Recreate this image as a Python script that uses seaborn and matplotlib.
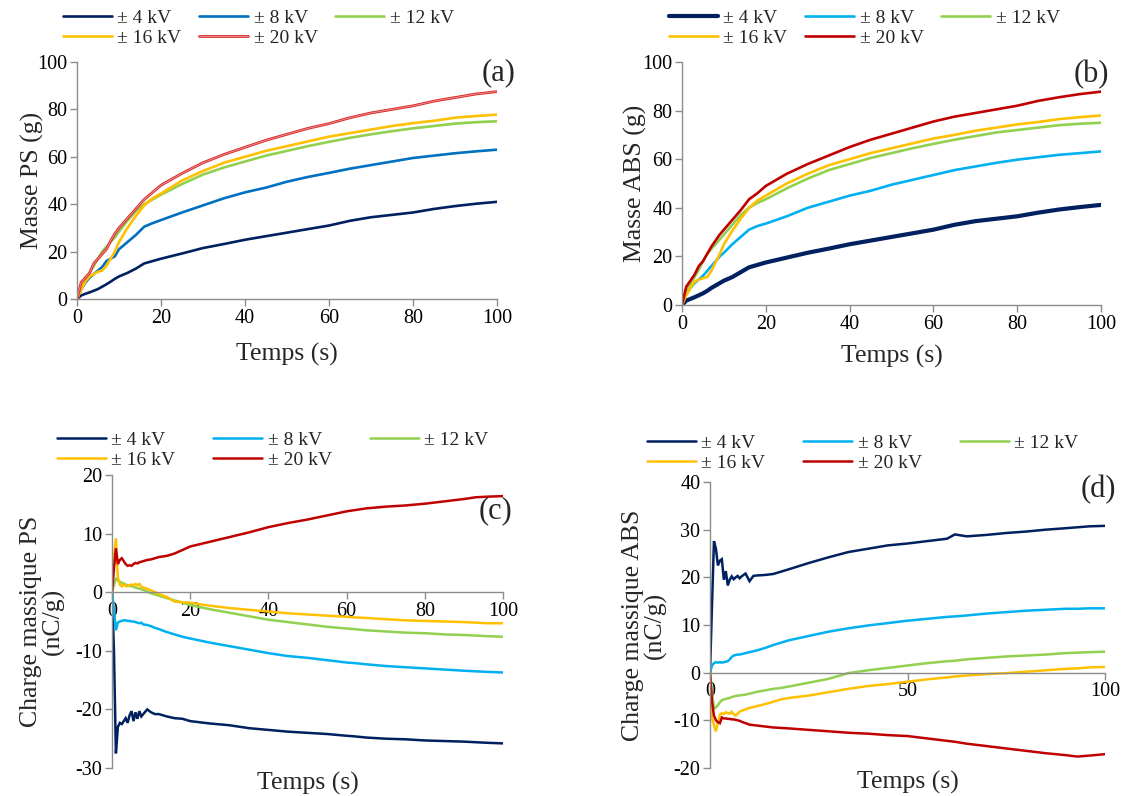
import numpy as np
import pandas as pd
import seaborn as sns
import matplotlib
matplotlib.use("Agg")
import matplotlib.pyplot as plt
import matplotlib.patheffects as pe

sns.set_theme(style="white")
plt.rcParams["font.family"] = ["Liberation Serif", "DejaVu Serif"]
plt.rcParams["axes.unicode_minus"] = False

# ---------------------------------------------------------------- data
tensions = ["± 4 kV", "± 8 kV", "± 12 kV", "± 16 kV", "± 20 kV"]

# collected mass (g) versus time (s)
t_masse = [0, 1, 2, 3, 4, 5, 6, 7, 8, 9, 10, 12, 14, 16, 18, 20, 25, 30, 35, 40,
           45, 50, 55, 60, 65, 70, 75, 80, 85, 90, 95, 100]

masse_ps_4kv = [0, 1.5, 2.2, 2.8, 3.5, 4.2, 5.2, 6.2, 7.3, 8.5, 9.5, 11, 12.8, 15, 16, 17,
                19.2, 21.5, 23.2, 25, 26.5, 28, 29.5, 31, 33, 34.5, 35.5, 36.5, 38, 39.2, 40.2, 41]
masse_ps_8kv = [0, 4, 7, 9, 10.5, 12, 13.5, 16, 17, 18, 21, 24, 27, 30.5, 32, 33.3,
                36.5, 39.5, 42.5, 45, 47, 49.5, 51.5, 53.2, 55, 56.5, 58, 59.5, 60.5, 61.5, 62.3, 63]
masse_ps_12kv = [0, 5, 8, 11, 14, 17, 20, 22, 24, 26, 28.5, 33, 37, 40, 42, 44,
                 48.5, 52.5, 55.5, 58, 60.5, 62.5, 64.5, 66.3, 68, 69.5, 70.8, 72, 73, 74, 74.6, 75]
masse_ps_16kv = [0, 4, 7.5, 9.5, 10.5, 11.5, 12, 14, 17, 20, 24, 30, 35, 39.5, 42.5, 44.5,
                 50, 54, 57.5, 60, 62.5, 64.5, 66.5, 68.5, 70, 71.5, 73, 74.2, 75.2, 76.5, 77.2, 77.8]
masse_ps_20kv = [0, 7, 9, 11, 15, 17, 19, 21, 24.5, 27.5, 30, 34, 38, 42, 45, 48,
                 53, 57.5, 61, 64, 67, 69.5, 72, 74, 76.5, 78.5, 80, 81.5, 83.5, 85, 86.5, 87.5]

masse_abs_4kv = [0, 1.8, 2.5, 3.2, 4, 4.8, 5.8, 7, 8, 9, 10, 11.5, 13.5, 15.5, 16.5, 17.5,
                 19.5, 21.5, 23.2, 25, 26.5, 28, 29.5, 31, 33, 34.5, 35.5, 36.5, 38, 39.3, 40.3, 41.2]
masse_abs_8kv = [0, 4.5, 7, 9, 10.5, 12, 14, 16, 18, 20, 21.5, 25, 28, 31, 32.5, 33.5,
                 36.5, 40, 42.5, 45, 47, 49.5, 51.5, 53.5, 55.5, 57, 58.5, 59.8, 60.8, 61.8, 62.5, 63.2]
masse_abs_12kv = [0, 6, 8.5, 11.5, 14.5, 18, 21, 23, 25, 27, 29, 33, 37, 40, 42, 43.5,
                  48, 52, 55.5, 58, 60.5, 62.5, 64.5, 66.3, 68, 69.5, 71, 72, 73, 74, 74.6, 75]
masse_abs_16kv = [0, 4, 7, 9.5, 10.5, 11, 11.5, 14, 17.5, 21, 25, 30.5, 35.5, 40, 43, 45,
                  50, 54, 57.5, 60, 62.5, 64.5, 66.5, 68.5, 70, 71.7, 73, 74.3, 75.3, 76.5, 77.3, 78]
masse_abs_20kv = [0, 7.5, 10, 12.5, 16, 18, 21, 24, 26.5, 29, 31, 35, 39, 43.5, 46, 49,
                  54, 58, 61.5, 65, 68, 70.5, 73, 75.5, 77.5, 79, 80.5, 82, 84, 85.5, 86.8, 87.8]

# charge-to-mass ratio (nC/g) versus time (s)
t_charge = [0, 0.5, 1, 1.5, 2, 2.5, 3, 3.5, 4, 4.5, 5, 5.5, 6, 6.5, 7, 7.5, 8, 9, 10, 11,
            12, 14, 16, 18, 20, 25, 30, 35, 40, 45, 50, 55, 60, 62, 65, 70, 75, 80, 85, 90,
            93, 96, 100]

charge_ps_4kv = [0, -10, -27.5, -23, -22.3, -22.5, -22, -21.5, -22.3, -21, -20.3, -22, -20.5,
                 -21.6, -20.3, -21.2, -20.8, -20, -20.5, -20.8, -20.8, -21.2, -21.5, -21.6, -22,
                 -22.4, -22.7, -23.2, -23.5, -23.8, -24, -24.2, -24.5, -24.6, -24.8, -25, -25.1,
                 -25.3, -25.4, -25.5, -25.6, -25.7, -25.8]
charge_ps_8kv = [0, -3, -6.5, -5.2, -5, -4.9, -4.8, -4.8, -4.9, -4.9, -5, -5, -5.1, -5.2, -5.3,
                 -5.2, -5.5, -5.6, -5.8, -6.1, -6.3, -6.8, -7.2, -7.6, -7.9, -8.6, -9.2, -9.8,
                 -10.4, -10.9, -11.2, -11.6, -12, -12.1, -12.3, -12.6, -12.8, -13, -13.2, -13.4,
                 -13.5, -13.6, -13.7]
charge_ps_12kv = [0, 1.2, 2.3, 2, 1.8, 1.6, 1.5, 1.3, 1.2, 1.1, 1, 0.9, 0.8, 0.7, 0.6, 0.5, 0.4,
                  0.1, -0.2, -0.4, -0.6, -1, -1.4, -1.8, -2.2, -2.9, -3.5, -4.1, -4.7, -5.1,
                  -5.5, -5.9, -6.2, -6.3, -6.5, -6.7, -6.9, -7.0, -7.2, -7.3, -7.4, -7.5, -7.6]
charge_ps_16kv = [0, 6, 9.2, 2.5, 1.3, 1, 1.3, 1.1, 1, 1.2, 1.3, 1.2, 1.4, 1.2, 1.4, 0.9, 0.8,
                  0.6, 0.3, 0, -0.3, -0.8, -1.6, -1.7, -1.8, -2.3, -2.7, -3.0, -3.3, -3.6, -3.8,
                  -4.0, -4.2, -4.3, -4.4, -4.6, -4.8, -4.9, -5.0, -5.1, -5.2, -5.3, -5.3]
charge_ps_20kv = [0, 4, 7.5, 4.8, 5.5, 5.8, 5.3, 4.8, 4.5, 4.6, 4.5, 4.8, 5, 4.9, 5.1, 5.2, 5.3,
                  5.5, 5.6, 5.8, 6, 6.2, 6.6, 7.2, 7.8, 8.6, 9.4, 10.2, 11.1, 11.8, 12.4, 13.1,
                  13.8, 14, 14.3, 14.6, 14.8, 15.1, 15.5, 15.9, 16.2, 16.3, 16.4]

charge_abs_4kv = [0, 14, 27.6, 26, 22.5, 23.5, 23.8, 19.5, 21.3, 18.3, 19.5, 20.2, 19.6, 20,
                  20.3, 19.8, 20.2, 20.8, 19.2, 20.3, 20.4, 20.5, 20.7, 21.2, 21.7, 23, 24.2,
                  25.3, 26, 26.7, 27.1, 27.6, 28.1, 29, 28.6, 28.9, 29.3, 29.6, 30, 30.3, 30.5,
                  30.7, 30.8]
charge_abs_8kv = [0, 1.5, 2, 2.2, 2.1, 2.2, 2.1, 2.2, 2.3, 2.4, 2.8, 3.3, 3.6, 3.7, 3.8, 3.8,
                  3.9, 4.1, 4.3, 4.5, 4.7, 5.2, 5.8, 6.3, 6.8, 7.7, 8.6, 9.3, 9.9, 10.4, 10.9,
                  11.3, 11.7, 11.8, 12, 12.4, 12.7, 13, 13.2, 13.4, 13.4, 13.5, 13.5]
charge_abs_12kv = [0, -4, -7.6, -7.3, -6.8, -6.2, -5.8, -5.6, -5.5, -5.4, -5.3, -5.1, -5,
                   -4.9, -4.8, -4.8, -4.7, -4.6, -4.4, -4.2, -4.0, -3.7, -3.4, -3.2, -2.9, -2.1,
                   -1.3, -0.1, 0.5, 1, 1.5, 2, 2.4, 2.5, 2.8, 3.1, 3.4, 3.6, 3.8, 4.1, 4.2, 4.3, 4.4]
charge_abs_16kv = [0, -9.5, -11, -12.3, -10.5, -8.8, -8.5, -8.7, -8.3, -8.5, -8.6, -8.2, -8.7,
                   -9, -8.6, -8.2, -8, -7.7, -7.4, -7.2, -7, -6.6, -6.1, -5.6, -5.3, -4.8, -4.1,
                   -3.4, -2.8, -2.4, -1.9, -1.4, -1.0, -0.8, -0.6, -0.3, -0.1, 0.2, 0.5, 0.8,
                   0.9, 1.1, 1.2]
charge_abs_20kv = [0, -6, -9, -10, -10.4, -10.6, -9.4, -9.6, -9.6, -9.7, -9.7, -9.8, -9.8,
                   -9.9, -10, -10.1, -10.3, -10.6, -10.9, -11, -11.1, -11.3, -11.5, -11.6,
                   -11.7, -12, -12.3, -12.6, -12.8, -13.1, -13.3, -13.8, -14.3, -14.5, -14.9,
                   -15.4, -15.9, -16.4, -16.9, -17.3, -17.6, -17.4, -17.1]

# ---------------------------------------------------------------- style
NAVY, BLUE, SKY = "#002060", "#0070C0", "#00B0F0"
GREEN, AMBER, RED, DARKRED = "#92D050", "#FFC000", "#D42A2A", "#C00000"
AXIS_GREY = "#8C8C8C"

TICK_FS, LABEL_FS, LEGEND_FS, LETTER_FS = 14.5, 18.5, 14, 22

W, H = 1130, 796
fig = plt.figure(figsize=(W / 100, H / 100), dpi=100)


def axes_px(left, top, right, bottom):
    return fig.add_axes([left / W, 1 - bottom / H, (right - left) / W, (bottom - top) / H])


def draw_series(ax, t, series, colors, widths):
    df = pd.DataFrame({
        "Temps": np.tile(t, len(series)),
        "Valeur": np.concatenate([np.asarray(s, float) for s in series]),
        "Tension": np.repeat(tensions, len(t)),
    })
    sns.lineplot(data=df, x="Temps", y="Valeur", hue="Tension", hue_order=tensions,
                 palette=dict(zip(tensions, colors)), estimator=None, sort=False,
                 legend=False, ax=ax)
    lines = ax.get_lines()[:len(tensions)]
    for line, w in zip(lines, widths):
        line.set_linewidth(w)
        line.set_solid_joinstyle("miter")
    return lines


def style_axes(ax, xticks, yticks, ylim, zero_axis=False):
    ax.set_xlim(0, 100)
    ax.set_ylim(*ylim)
    ax.set_xticks(xticks)
    ax.set_yticks(yticks)
    for s in ("top", "right"):
        ax.spines[s].set_visible(False)
    for s in ("left", "bottom"):
        ax.spines[s].set_color(AXIS_GREY)
        ax.spines[s].set_linewidth(1.0)
    if zero_axis:
        ax.spines["bottom"].set_position(("data", 0))
        ax.set_axisbelow(True)
    ax.tick_params(axis="both", which="major", bottom=True, left=True, direction="out",
                   length=5, width=1, color=AXIS_GREY, labelsize=TICK_FS,
                   labelcolor="black", pad=2)
    ax.set_facecolor("white")


def add_legend(ax, lines, x0, y0, colsp):
    # entries are laid out row by row: 4, 8, 12 kV on the first row, 16, 20 kV below
    order = [0, 3, 1, 4, 2]
    return ax.legend([lines[i] for i in order], [tensions[i] for i in order], ncol=3,
                     loc="upper left", bbox_to_anchor=(x0 / W, 1 - y0 / H),
                     bbox_transform=fig.transFigure, frameon=False, fontsize=LEGEND_FS,
                     handlelength=2.5, handletextpad=0.3, columnspacing=colsp,
                     labelspacing=0.12, borderpad=0, borderaxespad=0)


def set_labels(ax, xlabel, ylabel, xlab_y, ylab_x):
    ax.set_xlabel(xlabel, fontsize=LABEL_FS, va="center")
    ax.set_ylabel(ylabel, fontsize=LABEL_FS, va="center", multialignment="center",
                  linespacing=1.0)
    ax.xaxis.set_label_coords(0.5, xlab_y)
    ax.yaxis.set_label_coords(ylab_x, 0.5)


# ---------------------------------------------------------------- (a) masse PS
ax_a = axes_px(77, 62, 497, 299)
lines_a = draw_series(ax_a, t_masse,
                      [masse_ps_4kv, masse_ps_8kv, masse_ps_12kv, masse_ps_16kv, masse_ps_20kv],
                      [NAVY, BLUE, GREEN, AMBER, "#F28C8C"], [1.9, 1.9, 1.9, 1.9, 0.7])
lines_a[4].set_path_effects([pe.Stroke(linewidth=2.0, foreground=RED), pe.Normal()])
style_axes(ax_a, range(0, 101, 20), range(0, 101, 20), (0, 100))
set_labels(ax_a, "Temps (s)", "Masse PS (g)", -0.235, -0.105)
add_legend(ax_a, lines_a, 63, 9, 0.9)

# ---------------------------------------------------------------- (b) masse ABS
ax_b = axes_px(682, 62, 1101, 305)
lines_b = draw_series(ax_b, t_masse,
                      [masse_abs_4kv, masse_abs_8kv, masse_abs_12kv, masse_abs_16kv, masse_abs_20kv],
                      [NAVY, SKY, GREEN, AMBER, DARKRED], [3.0, 1.9, 1.9, 1.9, 1.9])
style_axes(ax_b, range(0, 101, 20), range(0, 101, 20), (0, 100))
set_labels(ax_b, "Temps (s)", "Masse ABS (g)", -0.21, -0.112)
add_legend(ax_b, lines_b, 669, 9, 0.9)

# ---------------------------------------------------------------- (c) charge PS
ax_c = axes_px(112, 475, 503, 768)
lines_c = draw_series(ax_c, t_charge,
                      [charge_ps_4kv, charge_ps_8kv, charge_ps_12kv, charge_ps_16kv, charge_ps_20kv],
                      [NAVY, SKY, GREEN, AMBER, DARKRED], [1.8] * 5)
style_axes(ax_c, range(0, 101, 20), range(-30, 21, 10), (-30, 20), zero_axis=True)
set_labels(ax_c, "Temps (s)", "Charge massique PS\n(nC/g)", -0.052, -0.178)
add_legend(ax_c, lines_c, 57, 431, 1.95)

# ---------------------------------------------------------------- (d) charge ABS
ax_d = axes_px(710, 482, 1105, 768)
lines_d = draw_series(ax_d, t_charge,
                      [charge_abs_4kv, charge_abs_8kv, charge_abs_12kv, charge_abs_16kv, charge_abs_20kv],
                      [NAVY, SKY, GREEN, AMBER, DARKRED], [1.8] * 5)
style_axes(ax_d, [0, 50, 100], range(-20, 41, 10), (-20, 40), zero_axis=True)
set_labels(ax_d, "Temps (s)", "Charge massique ABS\n(nC/g)", -0.05, -0.165)
add_legend(ax_d, lines_d, 647, 434, 1.95)

# ---------------------------------------------------------------- panel letters
for txt, x, y in [("(a)", 499, 73), ("(b)", 1091, 75), ("(c)", 495, 511), ("(d)", 1098, 490)]:
    fig.text(x / W, 1 - y / H, txt, fontsize=LETTER_FS, ha="center", va="center")

fig.savefig("out.png", dpi=100, facecolor="white")
